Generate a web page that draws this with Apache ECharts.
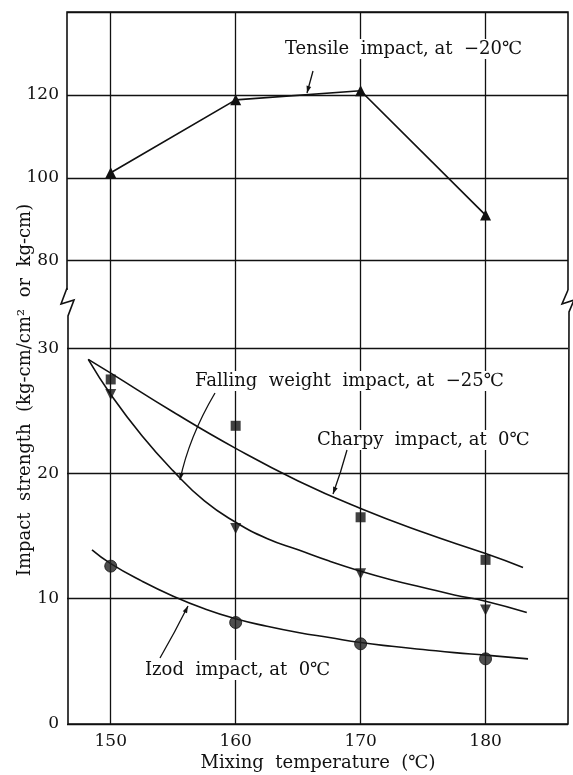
<!DOCTYPE html>
<html><head><meta charset="utf-8">
<script src="https://cdn.jsdelivr.net/npm/echarts@6/dist/echarts.min.js"></script>
<style>html,body{margin:0;padding:0;background:#fff}#c{width:573px;height:775px}</style>
</head><body><div id="c"></div>
<script>
// ---- data ----
const temps = [150, 160, 170, 180];
const tensile = [101.2, 118.8, 121.0, 91.0];
const charpy = [27.5, 23.8, 16.5, 13.1];
const falling = [26.3, 15.6, 12.0, 9.1];
const izod = [12.6, 8.1, 6.4, 5.2];

const charpyCurveX = [148.2, 150, 155, 160, 165, 170, 175, 180, 183.0];
const charpyCurveY = [29.1, 28.0, 24.9, 22.0, 19.4, 17.2, 15.3, 13.6, 12.5];
const fallingCurveX = [148.2, 150, 152.5, 155, 157.5, 160, 162.5, 165, 167.5, 170, 172.5, 175, 177.5, 180, 183.3];
const fallingCurveY = [29.1, 26.3, 23.0, 20.2, 17.8, 16.1, 14.8, 13.9, 13.0, 12.2, 11.5, 10.9, 10.3, 9.8, 8.9];
const izodCurveX = [148.5, 150, 152.5, 155, 157.5, 160, 162.5, 165, 167.5, 170, 172.5, 175, 177.5, 180, 183.4];
const izodCurveY = [13.9, 12.8, 11.4, 10.2, 9.2, 8.4, 7.8, 7.3, 6.9, 6.5, 6.2, 5.95, 5.7, 5.5, 5.2];

const xTickLabels = [150, 160, 170, 180];
const upperTickLabels = [80, 100, 120];
const lowerTickLabels = [0, 10, 20, 30];

// ---- layout ----
const L = 67, R = 568, TOP = 12, BRK = 298, BOT = 724;
const INK = '#111111';
const FONT = '"DejaVu Serif", "Liberation Serif", serif';

const zip = (xs, ys) => xs.map((x, i) => [x, ys[i]]);

function arrow(p0, c, p1) {
  const ang = Math.atan2(p1[1] - c[1], p1[0] - c[0]);
  const len = 7, w = 2.4;
  const bx = p1[0] - len * Math.cos(ang), by = p1[1] - len * Math.sin(ang);
  const nx = -Math.sin(ang), ny = Math.cos(ang);
  return [
    {type: 'bezierCurve', shape: {x1: p0[0], y1: p0[1], cpx1: c[0], cpy1: c[1], x2: p1[0], y2: p1[1]},
     style: {stroke: INK, lineWidth: 1.3, fill: null}, z: 20},
    {type: 'polygon', shape: {points: [[p1[0], p1[1]], [bx + nx * w, by + ny * w], [bx - nx * w, by - ny * w]]},
     style: {fill: INK}, z: 20}
  ];
}
function label(text, x, y, size) {
  return {type: 'text', x: x, y: y, z: 15,
    style: {text: text, font: (size || 18) + 'px ' + FONT, fill: INK, textAlign: 'left', textVerticalAlign: 'middle',
      backgroundColor: '#fff', padding: [1, 2]}};
}

const xAxisBase = {
  type: 'value', min: 146.5, max: 186.6, splitNumber: 4,
  axisLine: {show: false}, axisTick: {show: false},
  splitLine: {show: true, showMinLine: false, showMaxLine: false, lineStyle: {color: INK, width: 1.3}}
};
const fmtX = v => xTickLabels.indexOf(Math.round(v * 10) / 10) >= 0 ? String(v) : '';

const curveStyle = {smooth: 0.5, showSymbol: false, lineStyle: {color: INK, width: 1.6}, z: 4};

const chart = echarts.init(document.getElementById('c'), null, {renderer: 'canvas'});
chart.setOption({
  backgroundColor: '#fff',
  animation: false,
  grid: [
    {left: L, width: R - L, top: TOP, height: BRK - TOP, containLabel: false, outerBoundsMode: 'none'},
    {left: L, width: R - L, top: BRK, height: BOT - BRK, containLabel: false, outerBoundsMode: 'none'}
  ],
  xAxis: [
    Object.assign({gridIndex: 0, axisLabel: {show: false}}, xAxisBase),
    Object.assign({gridIndex: 1, axisLabel: {show: true, formatter: fmtX, margin: 9, color: INK,
      fontFamily: FONT, fontSize: 17, showMinLabel: true, showMaxLabel: true}}, xAxisBase)
  ],
  yAxis: [
    {gridIndex: 0, type: 'value', min: 71, max: 140, splitNumber: 4,
     axisLine: {show: false}, axisTick: {show: false},
     axisLabel: {margin: 8, color: INK, fontFamily: FONT, fontSize: 17,
       formatter: v => upperTickLabels.indexOf(v) >= 0 ? String(v) : ''},
     splitLine: {show: true, showMinLine: false, lineStyle: {color: INK, width: 1.3}}},
    {gridIndex: 1, type: 'value', min: 0, max: 34, interval: 10,
     axisLine: {show: false}, axisTick: {show: false},
     axisLabel: {margin: 8, color: INK, fontFamily: FONT, fontSize: 17,
       formatter: v => lowerTickLabels.indexOf(v) >= 0 ? String(v) : ''},
     splitLine: {show: true, showMaxLine: false, lineStyle: {color: INK, width: 1.3}}}
  ],
  series: [
    {type: 'line', xAxisIndex: 0, yAxisIndex: 0, data: zip(temps, tensile),
     symbol: 'triangle', symbolSize: 11, showSymbol: true,
     lineStyle: {color: INK, width: 1.7}, itemStyle: {color: INK}, z: 5},
    Object.assign({type: 'line', xAxisIndex: 1, yAxisIndex: 1, data: zip(charpyCurveX, charpyCurveY)}, curveStyle),
    Object.assign({type: 'line', xAxisIndex: 1, yAxisIndex: 1, data: zip(fallingCurveX, fallingCurveY)}, curveStyle),
    Object.assign({type: 'line', xAxisIndex: 1, yAxisIndex: 1, data: zip(izodCurveX, izodCurveY)}, curveStyle),
    {type: 'scatter', xAxisIndex: 1, yAxisIndex: 1, data: zip(temps, charpy),
     symbol: 'rect', symbolSize: 10, itemStyle: {color: INK}, z: 6},
    {type: 'scatter', xAxisIndex: 1, yAxisIndex: 1, data: zip(temps, falling),
     symbol: 'triangle', symbolRotate: 180, symbolSize: 11, itemStyle: {color: INK}, z: 6},
    {type: 'scatter', xAxisIndex: 1, yAxisIndex: 1, data: zip(temps, izod),
     symbol: 'circle', symbolSize: 12, itemStyle: {color: '#222', borderColor: INK, borderWidth: 1}, z: 6}
  ],
  graphic: [].concat(
    [
      // frame with break marks
      {type: 'polyline', z: 10, shape: {points: [[L, 290], [L, TOP], [R, TOP], [R, 290]]},
       style: {stroke: INK, lineWidth: 1.6, fill: null}},
      {type: 'polyline', z: 10, shape: {points: [[L, 288], [61, 304], [74, 300], [L + 1, 316], [L + 1, BOT], [R, BOT], [R + 1, 316], [R + 1, 312], [574, 300], [562, 304], [R, 290]]},
       style: {stroke: INK, lineWidth: 1.6, fill: null}},
      label('Tensile  impact, at  \u221220\u2103', 283, 49),
      label('Falling  weight  impact, at  \u221225\u2103', 193, 381),
      label('Charpy  impact, at  0\u2103', 315, 440),
      label('Izod  impact, at  0\u2103', 143, 670),
      {type: 'text', x: 318, y: 763, z: 15,
       style: {text: 'Mixing  temperature  (\u2103)', font: '18px ' + FONT, fill: INK, textAlign: 'center', textVerticalAlign: 'middle'}},
      {type: 'text', x: 25, y: 390, rotation: Math.PI / 2, z: 15,
       style: {text: 'Impact  strength  (kg-cm/cm\u00b2  or  kg-cm)', font: '18px ' + FONT, fill: INK, textAlign: 'center', textVerticalAlign: 'middle'}}
    ],
    arrow([313, 71], [310, 82], [307, 93]),
    arrow([215, 393], [189, 437], [180, 480]),
    arrow([347, 450], [341, 472], [333, 494]),
    arrow([160, 658], [175, 632], [188, 606])
  )
});
</script></body></html>
